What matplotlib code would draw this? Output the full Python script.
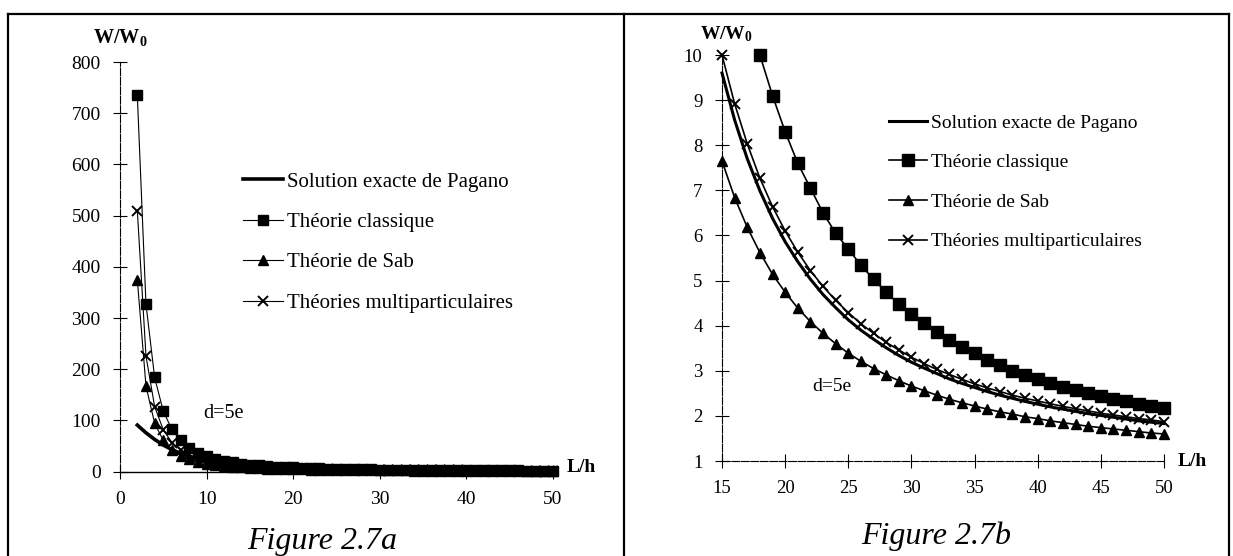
import matplotlib.pyplot as plt
from matplotlib.lines import Line2D
import numpy as np

plt.rcParams['font.family'] = ['Liberation Serif', 'DejaVu Serif']
plt.rcParams['mathtext.fontset'] = 'custom'
plt.rcParams['mathtext.rm'] = 'Liberation Serif'
plt.rcParams['mathtext.bf'] = 'Liberation Serif:bold'

# L/h values (2 .. 50)
lh = list(range(2, 51))

pagano = [91, 76, 63, 52, 43, 36, 30, 25.5, 21.5, 18, 15.2, 13, 11.1, 9.6,
          8.56, 7.7, 6.99, 6.38, 5.86, 5.42, 5.03, 4.69, 4.4, 4.13, 3.9, 3.7,
          3.51, 3.34, 3.19, 3.06, 2.94, 2.82, 2.72, 2.63, 2.54, 2.46, 2.39,
          2.32, 2.26, 2.2, 2.15, 2.1, 2.05, 2.01, 1.97, 1.93, 1.89, 1.86, 1.83]

classique = [735, 327, 184, 118, 82.5, 61, 46.9, 37.2, 30.4, 25.3, 21.4, 18.4,
             16.0, 14.0, 12.5, 11.2, 10.0, 9.1, 8.3, 7.6, 7.05, 6.5, 6.05, 5.7,
             5.34, 5.03, 4.74, 4.48, 4.25, 4.05, 3.85, 3.68, 3.53, 3.39, 3.25,
             3.12, 3.0, 2.9, 2.81, 2.72, 2.64, 2.57, 2.5, 2.44, 2.38, 2.32,
             2.27, 2.22, 2.18]

sab = [375, 167, 94.5, 61, 42.5, 31.5, 24.4, 19.5, 16.0, 13.4, 11.4, 9.85, 8.6,
       7.65, 6.84, 6.18, 5.62, 5.14, 4.74, 4.39, 4.09, 3.83, 3.6, 3.39, 3.21,
       3.05, 2.91, 2.78, 2.66, 2.56, 2.46, 2.37, 2.29, 2.22, 2.15, 2.09, 2.04,
       1.98, 1.94, 1.89, 1.85, 1.81, 1.77, 1.74, 1.71, 1.68, 1.65, 1.62, 1.6]

multi = [510, 226, 127, 81.5, 57, 42, 32.5, 25.8, 21.2, 17.7, 15.0, 12.96, 11.3,
         10.0, 8.92, 8.03, 7.27, 6.64, 6.1, 5.63, 5.22, 4.87, 4.56, 4.29, 4.04,
         3.83, 3.63, 3.46, 3.3, 3.16, 3.03, 2.92, 2.81, 2.71, 2.62, 2.54, 2.46,
         2.39, 2.33, 2.27, 2.21, 2.16, 2.11, 2.06, 2.02, 1.98, 1.94, 1.91, 1.87]

labels = ["Solution exacte de Pagano", "Théorie classique",
          "Théorie de Sab", "Théories multiparticulaires"]

W, H = 1233, 556
fig = plt.figure(figsize=(W / 100, H / 100), dpi=100)


def px_rect(x0, x1, y_top, y_bot):
    return [x0 / W, 1 - y_bot / H, (x1 - x0) / W, (y_bot - y_top) / H]


def style_axes(ax, fs):
    for s in ["top", "right"]:
        ax.spines[s].set_visible(False)
    ax.spines["left"].set_linewidth(0.8)
    ax.spines["left"].set_linestyle((0, (7, 1.5)))
    ax.spines["bottom"].set_linewidth(1.0)
    ax.tick_params(direction="inout", length=10, width=0.8, labelsize=fs,
                   pad=9)


def subset(xs, ys, xmin, ymax):
    pts = [(x, y) for x, y in zip(xs, ys) if x >= xmin and y <= ymax]
    return [p[0] for p in pts], [p[1] for p in pts]


# ---------- Figure 2.7a ----------
ax1 = fig.add_axes(px_rect(120, 553, 62, 471.7))
style_axes(ax1, 14)
ax1.plot(lh, pagano, color="black", lw=2.6, label=labels[0], clip_on=False)
ax1.plot(lh, classique, color="black", lw=0.8, marker="s", ms=7.5,
         label=labels[1], clip_on=False)
ax1.plot(lh, sab, color="black", lw=0.8, marker="^", ms=7.5,
         label=labels[2], clip_on=False)
ax1.plot(lh, multi, color="black", lw=0.8, marker="x", ms=7.5, mew=1.4,
         label=labels[3], clip_on=False)
ax1.set_xlim(0, 50)
ax1.set_ylim(0, 800)
ax1.set_xticks(np.arange(0, 51, 10))
ax1.set_yticks(np.arange(0, 801, 100))
ax1.text(12, 114, "d=5e", fontsize=14.5, ha="center", va="center")
ax1.legend(loc="upper left", bbox_to_anchor=(243 / W, 1 - 172 / H),
           bbox_transform=fig.transFigure, frameon=False, fontsize=15,
           handlelength=1.92, handletextpad=0.2, labelspacing=1.0,
           borderpad=0, borderaxespad=0)
fig.text(120 / W, 1 - 37 / H, r"$\mathbf{W/W_0}$", fontsize=14.5,
         ha="center", va="center")
fig.text(567 / W, 1 - 468 / H, "L/h", fontsize=14, fontweight="bold",
         ha="left", va="center")
fig.text(322 / W, 1 - 541 / H, "Figure 2.7a", fontsize=23, style="italic",
         ha="center", va="center")

# ---------- Figure 2.7b ----------
ax2 = fig.add_axes(px_rect(722, 1164, 55, 461))
style_axes(ax2, 13.5)
ax2.spines["bottom"].set_linestyle((0, (7, 1.5)))
ax2.spines["bottom"].set_linewidth(0.8)
x, y = subset(lh, pagano, 15, 10)
ax2.plot(x, y, color="black", lw=2.2, label=labels[0], clip_on=False)
x, y = subset(lh, classique, 15, 10)
ax2.plot(x, y, color="black", lw=1.2, marker="s", ms=8, label=labels[1],
         clip_on=False)
x, y = subset(lh, sab, 15, 10)
ax2.plot(x, y, color="black", lw=1.2, marker="^", ms=7, label=labels[2],
         clip_on=False)
x, y = subset(lh, multi, 15, 10)
ax2.plot(x, y, color="black", lw=1.2, marker="x", ms=7.5, mew=1.4,
         label=labels[3], clip_on=False)
ax2.set_xlim(15, 50)
ax2.set_ylim(1, 10)
ax2.set_xticks(np.arange(15, 51, 5))
ax2.set_yticks(np.arange(1, 11, 1))
ax2.text(23.7, 2.66, "d=5e", fontsize=14, ha="center", va="center")
ax2.legend(loc="upper left", bbox_to_anchor=(889 / W, 1 - 114 / H),
           bbox_transform=fig.transFigure, frameon=False, fontsize=14,
           handlelength=1.96, handletextpad=0.2, labelspacing=1.13,
           borderpad=0, borderaxespad=0)
fig.text(726 / W, 1 - 34 / H, r"$\mathbf{W/W_0}$", fontsize=14,
         ha="center", va="center")
fig.text(1178 / W, 1 - 461 / H, "L/h", fontsize=14, fontweight="bold",
         ha="left", va="center")
fig.text(936 / W, 1 - 536 / H, "Figure 2.7b", fontsize=23, style="italic",
         ha="center", va="center")

# panel frames
for xs, ys in [([8, 1229], [14, 14]), ([8, 8], [14, 556]),
               ([624, 624], [14, 556]), ([1229, 1229], [14, 556])]:
    fig.add_artist(Line2D([v / W for v in xs], [1 - v / H for v in ys],
                          color="black", lw=1.6))

fig.savefig("out.png", dpi=100)
